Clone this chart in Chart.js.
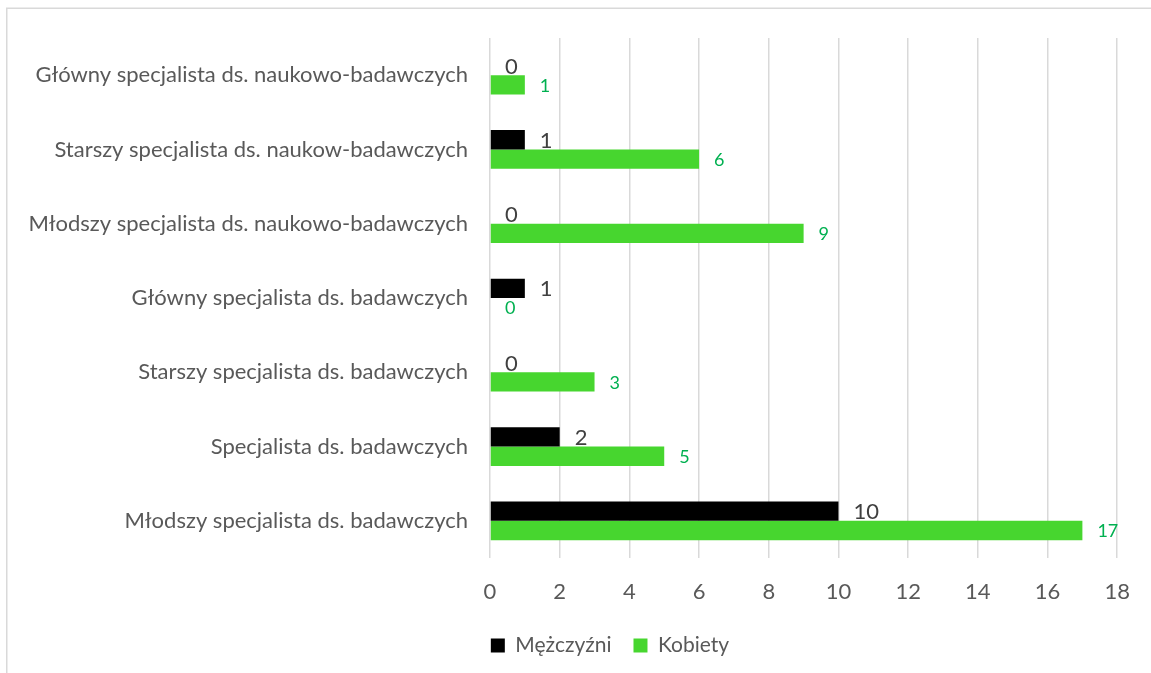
<!DOCTYPE html>
<html><head><meta charset="utf-8">
<script src="https://cdn.jsdelivr.net/npm/chart.js@4/dist/chart.umd.min.js"></script>
<style>html,body{margin:0;padding:0;background:#fff;overflow:hidden}canvas{display:block}</style>
</head><body>
<canvas id="c" width="1151" height="673"></canvas>
<script>
const categories = [
  'Główny specjalista ds. naukowo-badawczych',
  'Starszy specjalista ds. naukow-badawczych',
  'Młodszy specjalista ds. naukowo-badawczych',
  'Główny specjalista ds. badawczych',
  'Starszy specjalista ds. badawczych',
  'Specjalista ds. badawczych',
  'Młodszy specjalista ds. badawczych'
];
const seriesNames = ['Mężczyźni', 'Kobiety'];
const menValues = [0, 1, 0, 1, 0, 2, 10];
const womenValues = [1, 6, 9, 0, 3, 5, 17];
const xMin = 0, xMax = 18, xStep = 2;

const FONT = 'Lato';
const GRAY = '#595959';

const borderPlugin = {
  id: 'frame',
  beforeDraw(chart) {
    const ctx = chart.ctx;
    ctx.save();
    ctx.fillStyle = '#ffffff';
    ctx.fillRect(0, 0, chart.width, chart.height);
    ctx.strokeStyle = '#d9d9d9';
    ctx.lineWidth = 1.5;
    ctx.beginPath();
    ctx.moveTo(6.75, chart.height);
    ctx.lineTo(6.75, 8.25);
    ctx.lineTo(chart.width, 8.25);
    ctx.stroke();
    ctx.restore();
  }
};

const labelPlugin = {
  id: 'barLabels',
  afterDatasetsDraw(chart) {
    const ctx = chart.ctx;
    ctx.save();
    ctx.textAlign = 'left';
    ctx.textBaseline = 'middle';
    chart.data.datasets.forEach((ds, i) => {
      const meta = chart.getDatasetMeta(i);
      ctx.fillStyle = ds.labelColor;
      ctx.font = ds.labelFont;
      meta.data.forEach((el, j) => {
        ctx.fillText(String(ds.data[j]), el.x + 15, el.y + 1);
      });
    });
    ctx.restore();
  }
};

// shift the bottom legend horizontally (Excel places it left of centre)
const LEGEND_SHIFT = 41;
const legendShift = {
  id: 'legendShift',
  afterLayout(chart) {
    const lg = chart.legend;
    if (lg) { lg.left += LEGEND_SHIFT; lg.right += LEGEND_SHIFT; }
  }
};

const L = 20;
new Chart(document.getElementById('c'), {
  type: 'bar',
  data: {
    labels: categories,
    datasets: [
      { label: seriesNames[0], data: menValues, backgroundColor: '#000000',
        labelColor: '#404040', labelFont: '22px ' + FONT },
      { label: seriesNames[1], data: womenValues, backgroundColor: '#47d62f',
        labelColor: '#00b050', labelFont: '18px ' + FONT }
    ]
  },
  options: {
    indexAxis: 'y',
    responsive: false,
    animation: false,
    devicePixelRatio: 1,
    categoryPercentage: 0.52,
    barPercentage: 1.0,
    layout: { padding: { left: L, right: 33, top: 38, bottom: 7 } },
    plugins: {
      tooltip: { enabled: false },
      legend: {
        position: 'bottom',
        align: 'center',
        labels: {
          boxWidth: 14, boxHeight: 14,
          color: GRAY,
          font: { family: FONT, size: 21 },
          padding: 22
        }
      }
    },
    scales: {
      x: {
        min: xMin, max: xMax,
        ticks: { stepSize: xStep, color: GRAY, font: { family: FONT, size: 22 }, padding: 21 },
        grid: { color: '#d9d9d9', lineWidth: 1.5, drawTicks: false },
        border: { display: false },
        afterFit(s) { s.height = 55; }
      },
      y: {
        ticks: { color: GRAY, font: { family: FONT, size: 22 }, padding: 22 },
        grid: { display: false, drawTicks: false },
        border: { display: false },
        afterFit(s) { s.width = 490 - L; }
      }
    }
  },
  plugins: [borderPlugin, labelPlugin, legendShift]
});
</script>
</body></html>
